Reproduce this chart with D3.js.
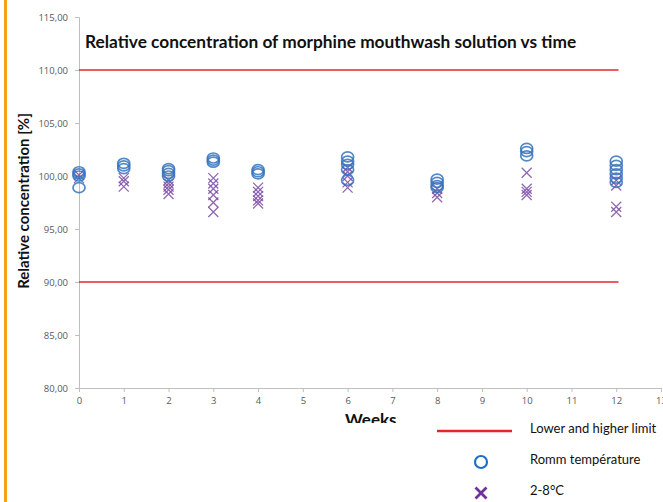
<!DOCTYPE html>
<html>
<head>
<meta charset="utf-8">
<script src="https://cdn.jsdelivr.net/npm/d3@7"></script>
<style>
  body { margin: 0; background: #fff; }
  svg { display: block; }
</style>
</head>
<body>
<div id="chart"></div>
<script>
// sampling weeks and measured relative concentrations (%)
const weeks = [0, 1, 2, 3, 4, 6, 8, 10, 12];
const roomTemp = [
  [100.4, 100.2, 100.0, 98.9],
  [101.2, 100.95, 100.7],
  [100.7, 100.5, 100.25, 100.0],
  [101.7, 101.5, 101.3],
  [100.6, 100.4, 100.2],
  [101.8, 101.4, 101.1, 100.6, 99.6],
  [99.7, 99.4, 99.1, 98.9],
  [102.6, 102.3, 101.9],
  [101.4, 101.0, 100.6, 100.2, 99.8, 99.4]
];
const fridge = [
  [100.1, 99.8],
  [99.8, 99.5, 99.0],
  [99.6, 99.3, 99.0, 98.7, 98.3],
  [99.8, 99.3, 98.8, 98.2, 97.5, 96.6],
  [98.9, 98.5, 98.1, 97.7, 97.4],
  [100.8, 100.4, 100.0, 99.4, 98.9],
  [98.8, 98.4, 98.0],
  [100.3, 98.8, 98.5, 98.2],
  [99.6, 99.1, 97.1, 96.6]
];
const limits = [90, 110];
const yTicks = [80, 85, 90, 95, 100, 105, 110, 115];
const xTicks = d3.range(0, 14);

const title = 'Relative concentration of morphine mouthwash solution vs time';
const legendItems = ['Lower and higher limit', 'Romm température', '2-8°C'];

const W = 663, H = 502;
const blue = '#3673bd', purple = '#7b4ea6', red = '#e3262a', axisGray = '#bfbfbf', textGray = '#595959';

const svg = d3.select('#chart').append('svg').attr('width', W).attr('height', H);

// orange bar on the left edge
svg.append('rect').attr('x', 4).attr('y', 0).attr('width', 3).attr('height', H).attr('fill', '#f6a21d');

const x = d3.scaleLinear().domain([0, 13]).range([79, 661]);
const y = d3.scaleLinear().domain([80, 115]).range([388, 17]);

const comma = d3.formatLocale({ decimal: ',', thousands: '.', grouping: [3], currency: ['', ''] }).format('.2f');

const defs = svg.append('defs');
defs.append('clipPath').attr('id', 'chartClip').append('rect').attr('x', 0).attr('y', 0).attr('width', W).attr('height', 423);

const chart = svg.append('g').attr('clip-path', 'url(#chartClip)');

// y axis
const yAxis = chart.append('g')
  .attr('transform', `translate(${x(0)},0)`)
  .call(d3.axisLeft(y).tickValues(yTicks).tickSize(4).tickPadding(7).tickFormat(comma));
yAxis.select('.domain').attr('stroke', axisGray);
yAxis.selectAll('.tick line').attr('stroke', axisGray);
yAxis.selectAll('.tick text').attr('fill', textGray).style('font', '9.5px "Open Sans", sans-serif');

// x axis
const xAxis = chart.append('g')
  .attr('transform', `translate(0,${y(80)})`)
  .call(d3.axisBottom(x).tickValues(xTicks).tickSize(4).tickPadding(5).tickFormat(d3.format('d')));
xAxis.select('.domain').attr('stroke', axisGray);
xAxis.selectAll('.tick line').attr('stroke', axisGray);
xAxis.selectAll('.tick text').attr('fill', textGray).style('font', '9.5px "Open Sans", sans-serif');

// limit lines
chart.selectAll('.limit').data(limits).enter().append('line')
  .attr('x1', x(0)).attr('x2', x(12.05))
  .attr('y1', d => y(d)).attr('y2', d => y(d))
  .attr('stroke', red).attr('stroke-width', 1.6);

// title
chart.append('text').attr('x', 85).attr('y', 48)
  .style('font', 'bold 17.3px Lato, sans-serif').attr('fill', '#111')
  .text(title);

// axis titles
chart.append('text')
  .attr('transform', `translate(29,${201}) rotate(-90)`)
  .attr('text-anchor', 'middle')
  .style('font', 'bold 15px Lato, sans-serif').attr('fill', '#111')
  .text('Relative concentration [%]');
chart.append('text').attr('x', 345).attr('y', 426)
  .style('font', 'bold 17px Lato, sans-serif').attr('fill', '#111')
  .text('Weeks');

// flatten series into points
const roomPts = weeks.flatMap((w, i) => roomTemp[i].map(v => ({ w, v })));
const fridgePts = weeks.flatMap((w, i) => fridge[i].map(v => ({ w, v })));

const cross = s => `M${-s},${-s}L${s},${s}M${-s},${s}L${s},${-s}`;

chart.append('g').selectAll('path').data(fridgePts).enter().append('path')
  .attr('transform', d => `translate(${x(d.w)},${y(d.v)})`)
  .attr('d', cross(5))
  .attr('stroke', purple).attr('stroke-width', 1.3).attr('fill', 'none').attr('opacity', 0.85);

chart.append('g').selectAll('ellipse').data(roomPts).enter().append('ellipse')
  .attr('cx', d => x(d.w)).attr('cy', d => y(d.v))
  .attr('rx', 6).attr('ry', 5)
  .attr('stroke', blue).attr('stroke-width', 1.7).attr('fill', 'none').attr('opacity', 0.85);

// legend
const legend = svg.append('g');
const ly = [431, 462, 493];
legend.append('line').attr('x1', 437).attr('x2', 512).attr('y1', ly[0]).attr('y2', ly[0])
  .attr('stroke', red).attr('stroke-width', 2.5);
legend.append('circle').attr('cx', 481).attr('cy', ly[1]).attr('r', 6)
  .attr('stroke', '#1f6fc6').attr('stroke-width', 2.2).attr('fill', 'none');
legend.append('path').attr('transform', `translate(481,${ly[2]})`).attr('d', cross(5.5))
  .attr('stroke', '#7030a0').attr('stroke-width', 2.8).attr('fill', 'none');
legend.selectAll('.lt').data(legendItems).enter().append('text')
  .attr('x', 530).attr('y', (d, i) => ly[i] + 2)
  .style('font', '13px Lato, sans-serif').attr('fill', '#111')
  .text(d => d);
</script>
</body>
</html>
